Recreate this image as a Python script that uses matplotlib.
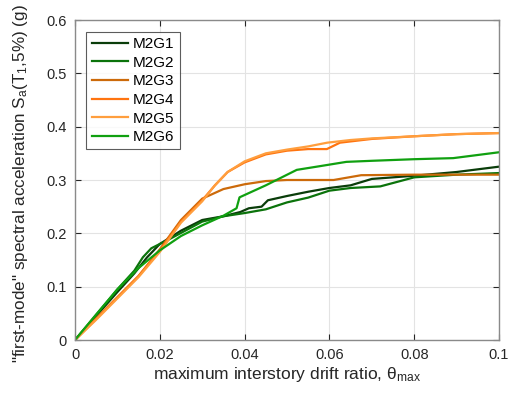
import matplotlib
matplotlib.use("Agg")
import matplotlib.pyplot as plt

plt.rcParams['font.family'] = ['Liberation Sans', 'DejaVu Sans']
plt.rcParams['mathtext.fontset'] = 'custom'
plt.rcParams['mathtext.rm'] = 'Liberation Sans'
plt.rcParams['mathtext.it'] = 'Liberation Sans'

names = ["M2G1", "M2G2", "M2G3", "M2G4", "M2G5", "M2G6"]
colors = ["#0a3d0a", "#0b730b", "#cc6a0a", "#ff7410", "#ff9e3d", "#10a010"]

x1 = [0, 0.005, 0.01, 0.014, 0.0155, 0.017, 0.02, 0.025, 0.03, 0.035, 0.039, 0.041, 0.044, 0.0455, 0.05, 0.055, 0.06, 0.065, 0.07, 0.08, 0.09, 0.1]
y1 = [0, 0.045, 0.09, 0.125, 0.14, 0.155, 0.18, 0.205, 0.225, 0.232, 0.24, 0.247, 0.25, 0.262, 0.27, 0.278, 0.285, 0.29, 0.302, 0.308, 0.315, 0.325]

x2 = [0, 0.005, 0.01, 0.014, 0.016, 0.018, 0.022, 0.026, 0.03, 0.035, 0.04, 0.045, 0.05, 0.055, 0.06, 0.065, 0.072, 0.08, 0.09, 0.1]
y2 = [0, 0.047, 0.095, 0.13, 0.155, 0.172, 0.188, 0.205, 0.222, 0.232, 0.238, 0.245, 0.258, 0.267, 0.28, 0.285, 0.288, 0.305, 0.31, 0.313]

x3 = [0, 0.005, 0.01, 0.015, 0.02, 0.025, 0.03, 0.035, 0.04, 0.045, 0.05, 0.06, 0.061, 0.0675, 0.08, 0.1]
y3 = [0, 0.04, 0.08, 0.12, 0.17, 0.225, 0.265, 0.283, 0.292, 0.298, 0.30, 0.30, 0.30, 0.309, 0.31, 0.31]

x4 = [0, 0.005, 0.01, 0.015, 0.02, 0.025, 0.03, 0.033, 0.036, 0.04, 0.045, 0.05, 0.055, 0.0594, 0.0625, 0.07, 0.08, 0.09, 0.1]
y4 = [0, 0.04, 0.08, 0.12, 0.168, 0.222, 0.262, 0.29, 0.315, 0.333, 0.348, 0.355, 0.358, 0.358, 0.37, 0.377, 0.382, 0.386, 0.388]

x5 = [0, 0.005, 0.01, 0.015, 0.02, 0.025, 0.03, 0.033, 0.036, 0.04, 0.045, 0.05, 0.055, 0.0595, 0.065, 0.07, 0.08, 0.09, 0.1]
y5 = [0, 0.038, 0.078, 0.118, 0.165, 0.22, 0.26, 0.29, 0.315, 0.335, 0.35, 0.357, 0.363, 0.37, 0.375, 0.378, 0.382, 0.386, 0.388]

x6 = [0, 0.005, 0.01, 0.015, 0.02, 0.025, 0.03, 0.035, 0.0381, 0.0388, 0.045, 0.0523, 0.0578, 0.064, 0.07, 0.08, 0.0892, 0.1]
y6 = [0, 0.048, 0.095, 0.135, 0.168, 0.195, 0.215, 0.233, 0.247, 0.2675, 0.29, 0.319, 0.326, 0.334, 0.336, 0.339, 0.341, 0.352]

xs = [x1, x2, x3, x4, x5, x6]
ys = [y1, y2, y3, y4, y5, y6]

xticks = [0, 0.02, 0.04, 0.06, 0.08, 0.1]
xticklabels = ["0", "0.02", "0.04", "0.06", "0.08", "0.1"]
yticks = [0, 0.1, 0.2, 0.3, 0.4, 0.5, 0.6]
yticklabels = ["0", "0.1", "0.2", "0.3", "0.4", "0.5", "0.6"]

fig = plt.figure(figsize=(5.08, 4.01), dpi=100)
ax = fig.add_axes([75/508, 1-340/401, 424/508, 320/401])

for x, y, c, n in zip(xs, ys, colors, names):
    ax.plot(x, y, color=c, lw=1.6, label=n)

ax.set_xlim(0, 0.1)
ax.set_ylim(0, 0.6)
ax.set_xticks(xticks)
ax.set_xticklabels(xticklabels)
ax.set_yticks(yticks)
ax.set_yticklabels(yticklabels)
ax.grid(True, color="#e3e3e3", lw=0.8)
ax.set_axisbelow(True)
for s in ax.spines.values():
    s.set_color("#8a8a8a")
    s.set_linewidth(1.0)
ax.tick_params(direction="in", top=True, right=True, length=4, width=0.8,
               colors="#262626", labelsize=10.5, pad=6)
ax.set_xlabel(r"maximum interstory drift ratio, $\theta_{\mathregular{max}}$", fontsize=12.5, color="#262626", labelpad=2)
ax.set_ylabel(r'"first-mode" spectral acceleration S$_\mathregular{a}$(T$_\mathregular{1}$,5%) (g)', fontsize=12.3, color="#262626")
ax.yaxis.set_label_coords(-0.107, 0.49)

leg = ax.legend(loc="upper left", bbox_to_anchor=(0.027, 0.963), fontsize=11,
                frameon=True, fancybox=False, edgecolor="#333333",
                handlelength=2.4, handletextpad=0.3, labelspacing=0.3,
                borderpad=0.35, borderaxespad=0)
leg.get_frame().set_linewidth(0.8)

fig.savefig("out.png", dpi=100)
